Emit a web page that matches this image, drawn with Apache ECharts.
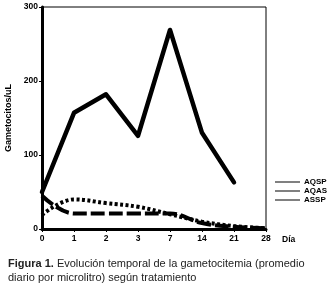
<!DOCTYPE html>
<html><head><meta charset="utf-8">
<script src="https://cdn.jsdelivr.net/npm/echarts@6/dist/echarts.min.js"></script>
<style>html,body{margin:0;padding:0;background:#fff}#c{width:330px;height:289px}</style>
</head><body><div id="c"></div>
<script>
const days = ['0','1','2','3','7','14','21','28'];
const yTicks = [0,100,200,300];
const aqsp = [50,157,182,126,269,130,63,null];
const aqas = [45,21,21,21,21,8,3,1];
const assp = [19,40,35,30,20,10,4,1];
const seriesNames = ['AQSP','AQAS','ASSP'];
const captionBold = 'Figura 1.';
const captionText = ' Evolución temporal de la gametocitemia (promedio\ndiario por microlitro) según tratamiento';

const chart = echarts.init(document.getElementById('c'), null, {renderer:'canvas'});
const tickFont = {fontFamily:'Liberation Sans', fontWeight:'bold', fontSize:8.5, color:'#000'};
chart.setOption({
  animation:false,
  title:{
    text:'{b|'+captionBold+'}'+captionText,
    left:3, top:252,
    textStyle:{fontFamily:'Liberation Sans', fontSize:11, color:'#222', fontWeight:'normal', lineHeight:14,
      rich:{b:{fontFamily:'Liberation Sans', fontSize:11, fontWeight:'bold', color:'#222'}}}
  },
  grid:{left:42, right:64, top:7, bottom:60, show:true, borderColor:'#000', borderWidth:1,
        containLabel:false, outerBoundsMode:'none'},
  legend:{
    orient:'vertical', left:270, top:173, itemGap:1, itemWidth:25, itemHeight:1,
    icon:'rect',
    data:seriesNames,
    itemStyle:{color:'#000'},
    textStyle:{fontFamily:'Liberation Sans', fontWeight:'bold', fontSize:8, color:'#000', padding:[0,0,0,-1]}
  },
  xAxis:{
    type:'category', data:days, boundaryGap:false,
    name:'Día', nameLocation:'end', nameGap:16,
    nameTextStyle:Object.assign({}, tickFont, {verticalAlign:'top', padding:[6,0,0,0]}),
    axisLine:{lineStyle:{color:'#000', width:3}},
    axisTick:{show:true, length:3, lineStyle:{color:'#000', width:1}},
    axisLabel:Object.assign({}, tickFont, {margin:5}),
    splitLine:{show:false}
  },
  yAxis:{
    type:'value', min:0, max:300, interval:100,
    name:'Gametocitos/uL', nameLocation:'middle', nameGap:29,
    nameTextStyle:{fontFamily:'Liberation Sans', fontWeight:'bold', fontSize:9, color:'#000'},
    axisLine:{show:true, lineStyle:{color:'#000', width:3}},
    axisTick:{show:true, length:3, lineStyle:{color:'#000', width:1}},
    axisLabel:Object.assign({}, tickFont, {margin:4, formatter:v=>yTicks.includes(v)?String(v):''}),
    splitLine:{show:false}
  },
  series:[
    {name:seriesNames[0], type:'line', data:aqsp, symbol:'none', color:'#000',
     lineStyle:{color:'#000', width:4.5, cap:'round', join:'round'}},
    {name:seriesNames[1], type:'line', data:aqas, symbol:'none', color:'#000', smooth:0.4,
     lineStyle:{color:'#000', width:4, type:[14,4]}},
    {name:seriesNames[2], type:'line', data:assp, symbol:'none', color:'#000', smooth:0.4,
     lineStyle:{color:'#000', width:4, type:[3,2.5]}}
  ]
});
</script></body></html>
